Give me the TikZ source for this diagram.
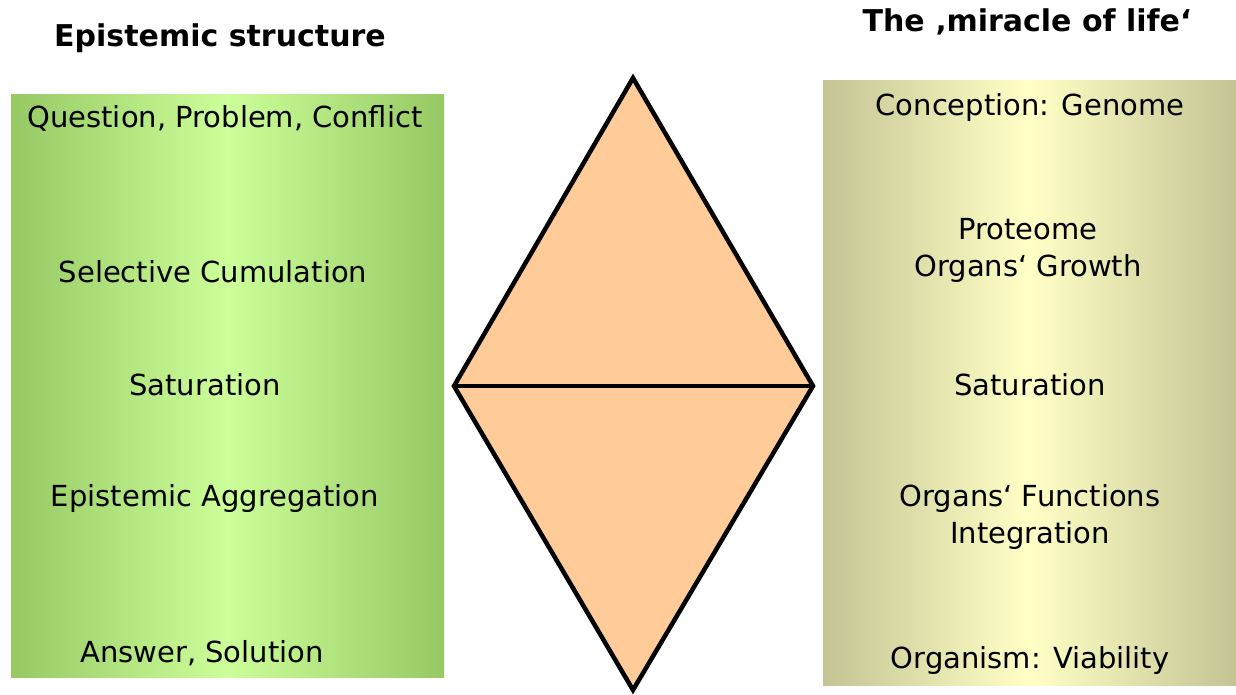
\documentclass[tikz,border=0pt]{standalone}
\usepackage{fontspec}
\setmainfont{DejaVu Sans}
\usetikzlibrary{positioning}
\usepackage{xcolor}
\definecolor{mgreen}{HTML}{96C864}
\definecolor{lgreen}{HTML}{CCFF99}
\definecolor{mtan}{HTML}{C4C494}
\definecolor{ltan}{HTML}{FFFFC6}
\definecolor{mpeach}{HTML}{FFCC99}
\tikzstyle{lbl}=[font=\fontsize{29}{37}\selectfont, align=center, inner sep=0pt]
\tikzstyle{ttl}=[font=\bfseries\fontsize{30}{34}\selectfont, inner sep=0pt]
\tikzstyle{l1}=[line width=4.5pt, line join=miter]
\tikzstyle{gbox}=[left color=mgreen, right color=mgreen, middle color=lgreen]
\tikzstyle{tbox}=[left color=mtan, right color=mtan, middle color=ltan]

\begin{document}
\begin{tikzpicture}[x=1pt,y=-1pt]
    \useasboundingbox (0,0) rectangle (1236,694);

    % the two panels
    \shade[gbox] (11, 94) rectangle (444, 677);
    \shade[tbox] (823, 80) rectangle (1236, 685);

    % diamond
    \coordinate (t) at (633, 78);
    \coordinate (l) at (454, 386);
    \coordinate (r) at (813, 386);
    \coordinate (b) at (633, 690);
    \fill[mpeach] (t) -- (r) -- (b) -- (l) -- cycle;
    \draw[l1] (t) -- (r) -- (b) -- (l) -- cycle;
    \draw[l1] (l) -- (r);

    % titles
    \node[ttl] (ep)  at (220, 38) {Epistemic structure};
    \node[ttl] (mir) at (1027, 22) {The ‚miracle of life‘};

    % left panel
    \node[lbl] (q)  at (225, 118) {Question, Problem, Conflict};
    \node[lbl] (sc) at (213, 272) {Selective Cumulation};
    \node[lbl] (s1) at (205, 385) {Saturation};
    \node[lbl] (ea) at (215, 498) {Epistemic Aggregation};
    \node[lbl] (as) at (202, 653) {Answer, Solution};

    % right panel
    \node[lbl] (cg) at (1030, 107) {Conception: Genome};
    \node[lbl] (pr) at (1028, 250) {Proteome\\Organs‘ Growth};
    \node[lbl] (s2) at (1030, 385) {Saturation};
    \node[lbl] (of) at (1030, 517) {Organs‘ Functions\\Integration};
    \node[lbl] (ov) at (1030, 660) {Organism: Viability};
\end{tikzpicture}
\end{document}
